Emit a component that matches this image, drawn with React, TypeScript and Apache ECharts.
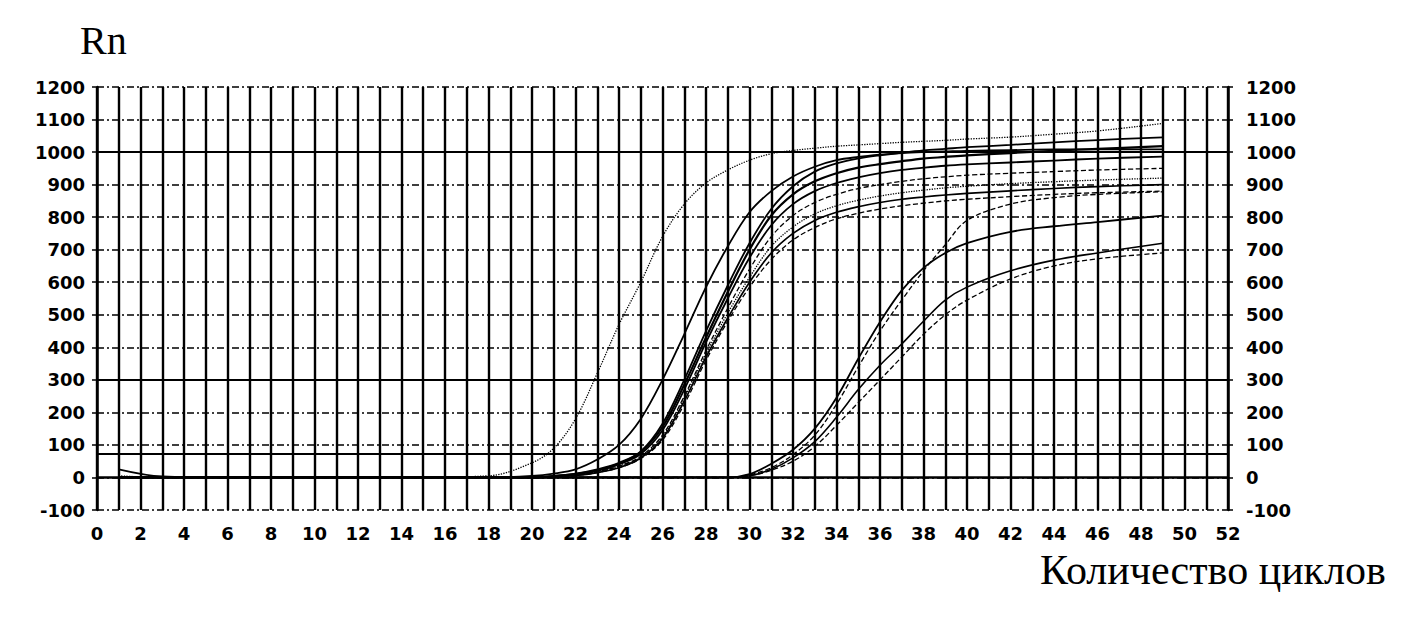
import React, { useEffect, useRef } from "react";
import * as echarts from "echarts";

const cycles = [1, 3, 6, 10, 14, 18, 20, 21, 22, 23, 24, 25, 26, 27, 28, 29, 30, 31, 32, 33, 34, 35, 36, 37, 38, 39, 40, 42, 44, 46, 49];

const e1 = [5, 0, 0, 0, 0, 5, 45, 90, 180, 320, 470, 600, 740, 840, 905, 945, 975, 995, 1005, 1012, 1018, 1022, 1026, 1030, 1033, 1036, 1040, 1046, 1055, 1065, 1088];
const e2 = [0, 0, 0, 0, 0, 0, 5, 12, 25, 55, 100, 180, 300, 440, 585, 710, 815, 880, 925, 955, 975, 985, 992, 997, 1000, 1002, 1004, 1006, 1008, 1008, 1008];
const b1 = [25, 3, 0, 0, 0, 0, 0, 5, 12, 25, 45, 80, 165, 300, 450, 590, 720, 825, 895, 940, 965, 980, 990, 998, 1005, 1010, 1015, 1022, 1030, 1037, 1045];
const b2 = [0, 0, 0, 0, 0, 0, 0, 4, 10, 22, 42, 78, 155, 285, 430, 570, 700, 805, 870, 910, 935, 952, 963, 972, 980, 985, 990, 997, 1004, 1010, 1018];
const b3 = [0, 0, 0, 0, 0, 0, 0, 3, 10, 20, 40, 72, 145, 270, 415, 550, 675, 775, 840, 880, 905, 922, 935, 945, 952, 958, 962, 968, 974, 980, 986];
const b4 = [0, 0, 0, 0, 0, 0, 0, 3, 8, 18, 35, 65, 130, 250, 390, 520, 640, 740, 805, 845, 870, 888, 900, 910, 918, 924, 929, 935, 940, 945, 950];
const b5 = [0, 0, 0, 0, 0, 0, 0, 3, 8, 18, 35, 62, 125, 245, 380, 505, 615, 710, 770, 810, 835, 852, 865, 875, 883, 890, 895, 903, 909, 914, 920];
const b6 = [0, 0, 0, 0, 0, 0, 0, 2, 6, 15, 30, 60, 120, 235, 370, 490, 600, 690, 750, 790, 815, 832, 845, 855, 862, 868, 873, 881, 888, 894, 900];
const b7 = [0, 0, 0, 0, 0, 0, 0, 2, 6, 15, 30, 58, 115, 225, 360, 480, 585, 670, 730, 768, 795, 812, 825, 835, 843, 850, 855, 863, 870, 875, 880];
const l1 = [0, 0, 0, 0, 0, 0, 0, 0, 0, 0, 0, 0, 0, 0, 0, 0, 10, 42, 85, 150, 245, 365, 478, 575, 644, 690, 720, 755, 772, 785, 805];
const l4 = [0, 0, 0, 0, 0, 0, 0, 0, 0, 0, 0, 0, 0, 0, 0, 0, 8, 30, 70, 130, 225, 340, 450, 545, 635, 715, 790, 840, 860, 870, 878];
const l2 = [0, 0, 0, 0, 0, 0, 0, 0, 0, 0, 0, 0, 0, 0, 0, 0, 5, 25, 60, 110, 185, 270, 345, 410, 480, 545, 585, 635, 668, 690, 720];
const l3 = [0, 0, 0, 0, 0, 0, 0, 0, 0, 0, 0, 0, 0, 0, 0, 0, 5, 22, 50, 95, 160, 230, 300, 370, 440, 500, 545, 610, 650, 672, 690];

const solidLines = [1000, 300, 72];

type Curve = { name: string; values: number[]; type: "solid" | "dashed" | "dotted"; width: number };
const curves: Curve[] = [
  { name: "E1", values: e1, type: "dotted", width: 1.3 },
  { name: "E2", values: e2, type: "solid", width: 1.8 },
  { name: "B1", values: b1, type: "solid", width: 1.8 },
  { name: "B2", values: b2, type: "solid", width: 2.2 },
  { name: "B3", values: b3, type: "solid", width: 1.8 },
  { name: "B4", values: b4, type: "dashed", width: 1.3 },
  { name: "B5", values: b5, type: "dotted", width: 1.3 },
  { name: "B6", values: b6, type: "solid", width: 1.7 },
  { name: "B7", values: b7, type: "dashed", width: 1.3 },
  { name: "L1", values: l1, type: "solid", width: 1.8 },
  { name: "L4", values: l4, type: "dashed", width: 1.3 },
  { name: "L2", values: l2, type: "solid", width: 1.6 },
  { name: "L3", values: l3, type: "dashed", width: 1.3 },
];

const tickFont = { fontFamily: "DejaVu Sans", fontWeight: "bold" as const, fontSize: 18, color: "#000" };

export default function App() {
  const ref = useRef<HTMLDivElement>(null);
  useEffect(() => {
    if (!ref.current) return;
    const chart = echarts.init(ref.current, null, { renderer: "svg" });
    const series: any[] = curves.map((c) => ({
      name: c.name,
      type: "line",
      data: cycles.map((x, i) => [x, c.values[i]]),
      smooth: 0.35,
      showSymbol: false,
      symbol: "none",
      lineStyle: { color: "#000", width: c.width, type: c.type },
      z: 5,
    }));
    series.push({
      name: "grid-solid",
      type: "line",
      data: [],
      markLine: {
        silent: true,
        symbol: ["none", "none"],
        label: { show: false },
        lineStyle: { color: "#000", width: 2.2, type: "solid" },
        data: solidLines.map((v) => ({ yAxis: v })),
      },
      z: 3,
    });
    chart.setOption({
      animation: false,
      backgroundColor: "#fff",
      grid: { left: 97, top: 87, width: 1131, height: 423, containLabel: false },
      xAxis: {
        type: "value",
        min: 0,
        max: 52,
        interval: 1,
        axisLine: { show: true, lineStyle: { color: "#000", width: 2.5 } },
        axisTick: { show: true, length: 5, lineStyle: { color: "#000", width: 1.5 } },
        axisLabel: {
          ...tickFont,
          margin: 14,
          formatter: (v: number) => (v % 2 === 0 ? String(v) : ""),
        },
        splitLine: { show: true, lineStyle: { color: "#000", width: 2.4, type: "solid" } },
      },
      yAxis: [
        {
          type: "value",
          min: -100,
          max: 1200,
          interval: 100,
          position: "left",
          axisLine: { show: true, lineStyle: { color: "#000", width: 2.5 } },
          axisTick: { show: true, length: 5, lineStyle: { color: "#000", width: 1.5 } },
          axisLabel: { ...tickFont, margin: 12, formatter: (v: number) => String(v) },
          splitLine: { show: true, lineStyle: { color: "#000", width: 1.5, type: [7, 3, 2, 3] } },
        },
        {
          type: "value",
          min: -100,
          max: 1200,
          interval: 100,
          position: "right",
          axisLine: { show: true, lineStyle: { color: "#000", width: 2.5 } },
          axisTick: { show: true, length: 5, lineStyle: { color: "#000", width: 1.5 } },
          axisLabel: { ...tickFont, margin: 18, formatter: (v: number) => String(v) },
          splitLine: { show: false },
        },
      ],
      graphic: [
        {
          type: "text",
          x: 80,
          y: 40,
          style: { text: "Rn", font: '40px "Liberation Serif"', fill: "#000", verticalAlign: "middle" },
        },
        {
          type: "text",
          x: 1040,
          y: 570,
          style: { text: "Количество циклов", font: '42px "Liberation Serif"', fill: "#000", verticalAlign: "middle" },
        },
      ],
      series,
    });
    return () => chart.dispose();
  }, []);
  return (
    <div
      ref={ref}
      style={{ position: "fixed", left: 0, top: 0, width: 1415, height: 625, background: "#fff" }}
    />
  );
}
